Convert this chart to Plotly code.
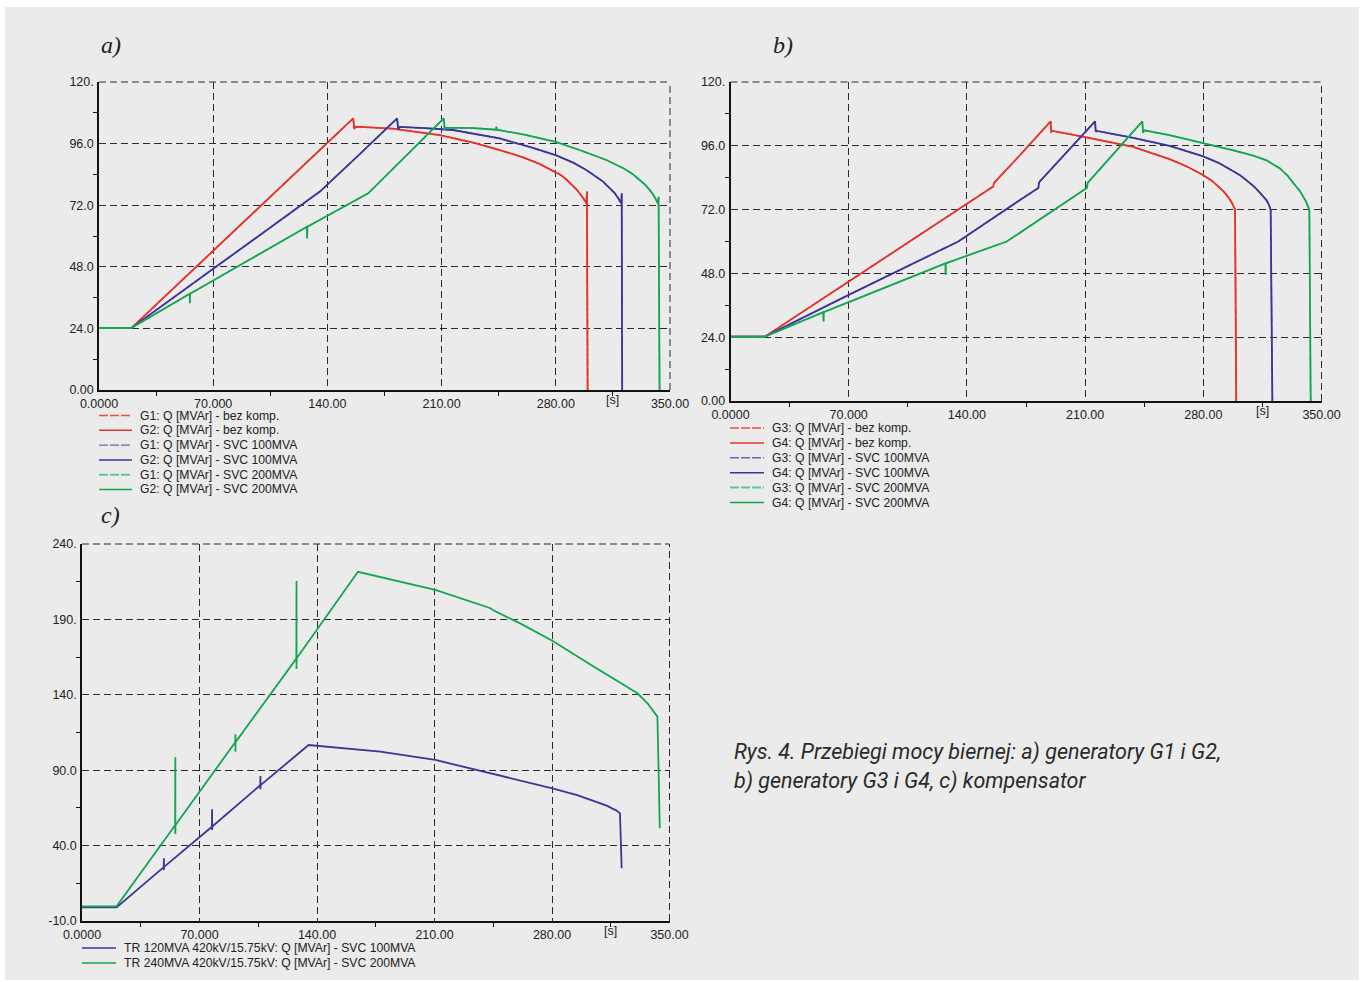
import plotly.graph_objects as go

W, H = 1361, 982

# ---------------- DATA ----------------
# Panel a) generators G1 and G2 (G1 and G2 coincide)
t_a_bez = [0, 20, 155.8, 156.5, 157.3, 180, 208.9, 230, 245.6, 260, 270, 279.9, 283, 286, 289, 291, 293, 295, 297, 298.7, 299.1, 299.5]
q_a_bez = [24.2, 24.2, 105.8, 101.7, 102.6, 101.8, 99.3, 96.3, 93.5, 90.6, 88.1, 85.0, 83.8, 82.3, 80.6, 79.2, 77.9, 76.3, 74.6, 72.7, 77.3, 0.0]

t_a_svc100 = [0, 20, 70, 135.4, 160, 172.1, 182.7, 183.4, 184.2, 200, 217, 245.6, 265, 279.9, 291, 298.7, 302, 306, 309, 311, 313.5, 316, 318, 320.1, 320.4, 320.7]
q_a_svc100 = [24.2, 24.2, 47.2, 77.3, 92.0, 99.3, 105.8, 101.5, 102.5, 102.0, 101.3, 98.0, 94.5, 91.5, 88.5, 85.7, 84.3, 82.6, 81.2, 79.9, 78.5, 76.8, 75.0, 72.7, 76.6, 0.0]

t_a_svc200 = [0, 20, 55.6, 55.7, 55.8, 127.5, 127.6, 127.7, 165, 211.3, 211.9, 212.5, 230, 243.4, 243.6, 243.8, 260, 279.9, 295, 311, 322, 327, 331.4, 335, 338, 340.5, 342.6, 343.0, 343.6]
q_a_svc200 = [24.2, 24.2, 37.5, 33.8, 37.5, 63.6, 59.0, 63.6, 76.6, 105.8, 101.5, 102.2, 102.0, 101.4, 102.6, 101.4, 99.6, 96.7, 93.4, 89.6, 86.2, 84.2, 81.8, 79.8, 77.6, 75.3, 72.7, 75.3, 0.0]

# Panel b) generators G3 and G4 (G3 and G4 coincide)
t_b_bez = [0, 20.4, 155.6, 156.0, 170, 189.6, 190.0, 190.8, 209.9, 238.5, 260, 270, 279.6, 285, 289.9, 292.5, 295, 297, 298.8, 299.5]
q_b_bez = [24.2, 24.2, 80.7, 82.0, 91.5, 105.2, 101.3, 101.6, 99.3, 95.6, 91.0, 88.3, 85.1, 82.9, 80.1, 78.5, 76.5, 74.5, 72.0, 0.0]

t_b_svc100 = [0, 20.4, 70, 134.9, 171.4, 182.3, 182.8, 215.9, 216.3, 217, 238.5, 260, 279.6, 289, 297.8, 302, 306, 310, 313.6, 315.8, 317.5, 318.8, 319.9, 320.9]
q_b_svc100 = [24.2, 24.2, 39.9, 60.0, 75.6, 80.1, 82.3, 105.2, 101.3, 101.6, 99.0, 96.0, 92.1, 89.6, 86.4, 84.8, 82.8, 80.7, 78.3, 76.9, 75.5, 73.9, 72.0, 0.0]

t_b_svc200 = [0, 20.4, 55.0, 55.1, 55.2, 127.3, 127.4, 127.5, 163.6, 211.0, 211.5, 243.9, 244.3, 245.0, 260, 279.6, 297.8, 309.6, 317.5, 325.4, 330, 333.3, 337.3, 340.8, 342.8, 343.6]
q_b_svc200 = [24.2, 24.2, 33.4, 29.9, 33.4, 51.8, 47.5, 51.8, 60.0, 80.1, 82.0, 105.2, 100.9, 101.8, 100.0, 97.1, 94.3, 92.3, 90.5, 87.5, 84.7, 82.0, 78.9, 75.1, 72.0, 0.0]

# Panel c) compensator transformers
t_c_tr120 = [0, 20.6, 48.7, 48.8, 48.8, 48.9, 77.4, 77.5, 77.5, 77.6, 106.2, 106.3, 106.3, 106.4, 135, 165.8, 177.7, 210.5, 243.4, 280.2, 295, 309, 313, 316, 318.5, 320.5, 321.0, 321.5]
q_c_tr120 = [-1.0, -1.0, 25.7, 31.6, 23.8, 25.9, 52.5, 64.1, 50.3, 52.7, 80.0, 86.2, 77.3, 80.1, 106.7, 103.4, 102.3, 96.8, 88.0, 78.0, 73.5, 68.0, 66.3, 64.5, 63.2, 61.4, 45.0, 25.0]

t_c_tr240 = [0, 20.6, 55.5, 55.6, 55.6, 55.7, 91.3, 91.4, 91.4, 91.5, 127.7, 127.8, 127.8, 127.9, 164.4, 210.5, 243.4, 245, 261.3, 280.2, 305, 320.9, 330.9, 336.9, 340.8, 342.8, 343.5, 344.2]
q_c_tr240 = [-0.3, -0.3, 53.5, 98.6, 47.7, 53.7, 108.5, 113.8, 102.3, 108.6, 164.0, 215.5, 157.1, 164.2, 221.6, 209.5, 197.4, 196.0, 187.2, 175.9, 158.6, 148.0, 141.0, 134.4, 128.8, 125.5, 90.0, 51.5]

# Tick labels
x_tickvals = [0, 70, 140, 210, 280, 350]
x_ticktext = ["0.0000", "70.000", "140.00", "210.00", "280.00", "350.00"]
y_ab_tickvals = [0, 24, 48, 72, 96, 120]
y_ab_ticktext = ["0.00", "24.0", "48.0", "72.0", "96.0", "120."]
y_c_tickvals = [-10, 40, 90, 140, 190, 240]
y_c_ticktext = ["-10.0", "40.0", "90.0", "140.", "190.", "240."]

legend_a = ["G1: Q [MVAr] - bez komp.", "G2: Q [MVAr] - bez komp.",
            "G1: Q [MVAr] - SVC 100MVA", "G2: Q [MVAr] - SVC 100MVA",
            "G1: Q [MVAr] - SVC 200MVA", "G2: Q [MVAr] - SVC 200MVA"]
legend_b = ["G3: Q [MVAr] - bez komp.", "G4: Q [MVAr] - bez komp.",
            "G3: Q [MVAr] - SVC 100MVA", "G4: Q [MVAr] - SVC 100MVA",
            "G3: Q [MVAr] - SVC 200MVA", "G4: Q [MVAr] - SVC 200MVA"]
legend_c = ["TR 120MVA 420kV/15.75kV: Q [MVAr] - SVC 100MVA",
            "TR 240MVA 420kV/15.75kV: Q [MVAr] - SVC 200MVA"]

caption1 = "Rys. 4. Przebiegi mocy biernej: a) generatory G1 i G2,"
caption2 = "b) generatory G3 i G4, c) kompensator"

# ---------------- STYLE ----------------
RED, BLUE, GREEN = "#e5322a", "#3b3598", "#13a54f"
RED_L, BLUE_L, GREEN_L = "#ea4a42", "#6b64bd", "#5cc98c"
GRID = "#2b2b2b"
FONT = "Liberation Sans, Arial, sans-serif"
TXT = "#222222"


def PX(x):
    return x / W


def PY(y):
    return 1 - y / H


fig = go.Figure()

panels = [
    ("x", "y", [(t_a_bez, q_a_bez), (t_a_svc100, q_a_svc100), (t_a_svc200, q_a_svc200)]),
    ("x2", "y2", [(t_b_bez, q_b_bez), (t_b_svc100, q_b_svc100), (t_b_svc200, q_b_svc200)]),
]
for xa, ya, series in panels:
    for (t, q), col, coll in zip(series, [RED, BLUE, GREEN], [RED_L, BLUE_L, GREEN_L]):
        # first generator of the pair (dashed, lighter) - coincides with the second one
        fig.add_trace(go.Scatter(x=t, y=q, mode="lines", xaxis=xa, yaxis=ya, showlegend=False,
                                 line=dict(color=coll, width=1.5, dash="8px,2px")))
        fig.add_trace(go.Scatter(x=t, y=q, mode="lines", xaxis=xa, yaxis=ya, showlegend=False,
                                 line=dict(color=col, width=1.8)))

fig.add_trace(go.Scatter(x=t_c_tr120, y=q_c_tr120, mode="lines", xaxis="x3", yaxis="y3",
                         showlegend=False, line=dict(color=BLUE, width=1.8)))
fig.add_trace(go.Scatter(x=t_c_tr240, y=q_c_tr240, mode="lines", xaxis="x3", yaxis="y3",
                         showlegend=False, line=dict(color=GREEN, width=1.8)))


def xaxis_style(domain, anchor):
    return dict(domain=domain, anchor=anchor, range=[0, 350], tickmode="array",
                tickvals=x_tickvals, ticktext=x_ticktext, showgrid=True, gridcolor=GRID,
                gridwidth=1, griddash="7px,4px", zeroline=False, showline=True,
                linecolor="#111111", linewidth=1.5, ticks="", ticklabelstandoff=1,
                automargin=False,
                tickfont=dict(family=FONT, size=12.5, color=TXT),
                minor=dict(tickvals=[35, 105, 175, 245, 315], ticks="outside", ticklen=4,
                           tickcolor="#111111", showgrid=False),
                fixedrange=True)


def yaxis_style(domain, anchor, rng, tv, tt, minor_vals):
    return dict(domain=domain, anchor=anchor, range=rng, tickmode="array",
                tickvals=tv, ticktext=tt, showgrid=True, gridcolor=GRID,
                gridwidth=1, griddash="7px,4px", zeroline=False, showline=True,
                linecolor="#111111", linewidth=1.5, ticks="", ticklabelstandoff=1,
                automargin=False,
                tickfont=dict(family=FONT, size=12.5, color=TXT),
                minor=dict(tickvals=minor_vals, ticks="outside", ticklen=4,
                           tickcolor="#111111", showgrid=False),
                fixedrange=True)


fig.update_layout(
    width=W, height=H, margin=dict(l=0, r=0, t=0, b=0, autoexpand=False),
    paper_bgcolor="white", plot_bgcolor="rgba(0,0,0,0)",
    showlegend=False,
    xaxis=xaxis_style([PX(99), PX(670)], "y"),
    yaxis=yaxis_style([PY(390), PY(82)], "x", [0, 120], y_ab_tickvals, y_ab_ticktext,
                      [12, 36, 60, 84, 108]),
    xaxis2=xaxis_style([PX(730.5), PX(1321.5)], "y2"),
    yaxis2=yaxis_style([PY(401), PY(82)], "x2", [0, 120], y_ab_tickvals, y_ab_ticktext,
                       [12, 36, 60, 84, 108]),
    xaxis3=xaxis_style([PX(82), PX(669.5)], "y3"),
    yaxis3=yaxis_style([PY(921), PY(544)], "x3", [-10, 240], y_c_tickvals, y_c_ticktext,
                       [15, 65, 115, 165, 215]),
)

shapes = [dict(type="rect", xref="paper", yref="paper", x0=PX(5), x1=PX(1359), y0=PY(980), y1=PY(7),
               fillcolor="#ebebeb", line=dict(width=0), layer="below")]
# top and right dashed border of each plot
for xr, yr in [("x", "y"), ("x2", "y2"), ("x3", "y3")]:
    shapes.append(dict(type="line", xref=xr + " domain", yref=yr + " domain", x0=0, x1=1, y0=1, y1=1,
                       line=dict(color=GRID, width=1, dash="7px,4px")))
    shapes.append(dict(type="line", xref=xr + " domain", yref=yr + " domain", x0=1, x1=1, y0=0, y1=1,
                       line=dict(color=GRID, width=1, dash="7px,4px")))

annotations = []


def add_legend(labels, styles, x_line0, x_line1, x_text, y0, dy):
    for i, (lab, (col, dash, w)) in enumerate(zip(labels, styles)):
        y = y0 + i * dy
        shapes.append(dict(type="line", xref="paper", yref="paper", x0=PX(x_line0), x1=PX(x_line1),
                           y0=PY(y), y1=PY(y), line=dict(color=col, width=w, dash=dash)))
        annotations.append(dict(xref="paper", yref="paper", x=PX(x_text), y=PY(y), text=lab,
                                showarrow=False, xanchor="left", yanchor="middle",
                                font=dict(family=FONT, size=12.2, color=TXT)))


ab_styles = [(RED_L, "9px,2px", 1.4), (RED, "solid", 1.5), (BLUE_L, "9px,2px", 1.4),
             (BLUE, "solid", 1.5), (GREEN_L, "9px,2px", 2), (GREEN, "solid", 1.5)]
add_legend(legend_a, ab_styles, 99, 132, 138, 415.5, 14.8)
add_legend(legend_b, ab_styles, 730, 764, 770, 428, 14.9)
add_legend(legend_c, [(BLUE, "solid", 1.5), (GREEN, "solid", 1.5)], 82, 116, 122, 948, 15)

# "[s]" unit labels on the time axes
for xr, yr in [("x", "y"), ("x2", "y2"), ("x3", "y3")]:
    annotations.append(dict(xref=xr, yref=yr + " domain", x=315, y=0, text="[s]", showarrow=False,
                            xanchor="center", yanchor="top", yshift=-1,
                            font=dict(family=FONT, size=12.5, color=TXT)))

# panel letters
for txt, x, y in [("a)", 111, 45), ("b)", 783, 45), ("c)", 110, 515)]:
    annotations.append(dict(xref="paper", yref="paper", x=PX(x), y=PY(y), text=txt, showarrow=False,
                            xanchor="center", yanchor="middle",
                            font=dict(family="Liberation Serif, Times New Roman, serif", size=24,
                                      color="#222222", style="italic")))

CAP_FONT = "Roboto, sans-serif"
for txt, y in [(caption1, 752), (caption2, 781)]:
    annotations.append(dict(xref="paper", yref="paper", x=PX(732), y=PY(y), text=txt, showarrow=False,
                            xanchor="left", yanchor="middle",
                            font=dict(family=CAP_FONT, size=21.5, color="#2a2a2a", style="italic")))

fig.update_layout(shapes=shapes, annotations=annotations)

fig.write_html(
    "out.html",
    config={"displayModeBar": False},
    post_script=(
        "document.documentElement.style.margin='0';document.body.style.margin='0';"
        "document.body.style.padding='0';document.documentElement.style.overflow='hidden';"
        "document.body.style.overflow='hidden';"
    ),
)
